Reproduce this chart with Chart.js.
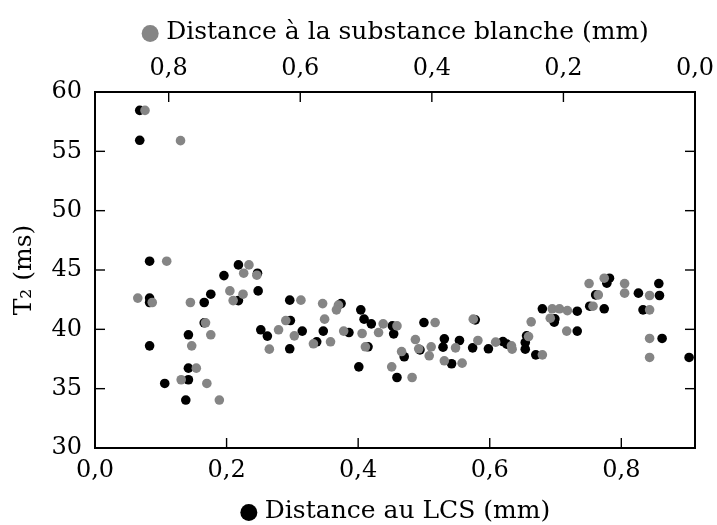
<!DOCTYPE html>
<html>
<head>
<meta charset="utf-8">
<script src="https://cdn.jsdelivr.net/npm/chart.js@4/dist/chart.umd.min.js"></script>
<style>
  html, body { margin: 0; padding: 0; background: #fff; }
  canvas { display: block; }
</style>
</head>
<body>
<canvas id="c" width="717" height="525"></canvas>
<script>
// Distance au LCS (mm) -> T2 (ms), black points, bottom axis
const lcsX = [0.068,0.068,0.083,0.218,0.196,0.247,0.248,0.176,0.083,0.083,0.166,0.218,0.166,0.252,0.262,0.142,0.083,0.142,0.106,0.142,0.138,
  0.296,0.374,0.404,0.409,0.420,0.452,0.454,0.500,0.297,0.315,0.296,0.347,0.337,0.386,0.401,0.415,0.459,0.470,0.494,
  0.531,0.529,0.542,0.554,0.578,0.574,0.598,0.620,0.626,0.654,0.654,0.656,0.670,0.680,0.699,0.698,0.733,0.733,0.752,
  0.774,0.761,0.778,0.782,0.826,0.857,0.858,0.833,0.862,0.903];
const lcsT2 = [58.45,55.93,45.74,45.43,44.53,44.73,43.24,42.96,42.63,42.26,42.26,42.42,40.55,39.96,39.43,39.54,38.61,36.73,35.44,35.75,34.04,
  42.46,42.17,41.64,40.86,40.46,40.29,39.62,40.57,40.74,39.85,38.36,39.85,38.95,39.73,36.84,38.53,35.94,37.69,38.27,
  39.20,38.50,37.10,39.06,40.80,38.44,38.36,38.97,38.75,38.89,38.33,39.45,37.85,41.73,40.88,40.60,41.53,39.85,41.95,
  41.73,42.90,43.89,44.31,43.05,43.86,42.85,41.64,39.23,37.63];

// Distance à la substance blanche (mm) -> T2 (ms), grey points, top (reversed) axis
const sbX = [0.836,0.782,0.803,0.678,0.686,0.666,0.707,0.687,0.847,0.825,0.767,0.702,0.744,0.647,0.736,0.765,0.758,0.781,0.742,0.723,
  0.599,0.566,0.542,0.545,0.453,0.474,0.481,0.395,0.622,0.563,0.633,0.609,0.580,0.554,0.534,0.506,0.501,0.461,0.430,0.446,
  0.425,0.420,0.401,0.404,0.381,0.354,0.364,0.337,0.330,0.303,0.279,0.278,0.253,0.232,0.249,0.217,0.206,0.194,0.220,0.195,
  0.155,0.161,0.147,0.138,0.107,0.107,0.069,0.069,0.069,0.069];
const sbT2 = [58.45,55.90,45.74,45.43,44.73,44.56,43.24,42.96,42.63,42.26,42.26,42.42,40.55,38.33,39.54,38.61,36.73,35.75,35.44,34.04,
  42.46,42.17,42.04,41.64,40.29,40.46,39.73,40.57,40.74,40.86,39.96,39.45,38.78,38.95,39.85,39.65,38.53,36.84,35.94,38.13,
  39.14,38.36,38.53,37.77,37.35,37.15,38.44,40.86,39.06,38.92,38.61,38.33,39.39,37.85,40.63,41.73,41.73,41.58,40.94,39.85,
  41.95,43.86,42.90,44.31,43.86,43.05,42.85,41.64,39.23,37.63];

const xTicks = [0, 0.2, 0.4, 0.6, 0.8];
const yTicks = [30, 35, 40, 45, 50, 55, 60];
const xMax = 0.912;
const titleTop = "Distance à la substance blanche (mm)";
const titleBottom = "Distance au LCS (mm)";
const titleY = "T₂ (ms)";

const FONT = "'DejaVu Serif', serif";
const GREY = '#858585';
const fmt = v => v.toFixed(1).replace('.', ',');
const pts = (xs, ys) => xs.map((x, i) => ({x: x, y: ys[i]}));

const tickFont = {family: FONT, size: 24};
const titleFont = {family: FONT, size: 25, lineHeight: 1};
const SPACER = '\u2003';

const inwardTicks = {
  id: 'inwardTicks',
  afterDraw(chart) {
    const ctx = chart.ctx, a = chart.chartArea, L = 10;
    ctx.save();
    ctx.strokeStyle = '#000';
    ctx.lineWidth = 1.4;
    const line = (x1, y1, x2, y2) => { ctx.beginPath(); ctx.moveTo(x1, y1); ctx.lineTo(x2, y2); ctx.stroke(); };
    const sx = chart.scales.x, sx2 = chart.scales.x2, sy = chart.scales.y;
    xTicks.forEach(v => {
      const p = sx.getPixelForValue(v);
      if (Math.abs(p - a.left) > 2) line(p, a.bottom, p, a.bottom - L);
      const q = sx2.getPixelForValue(v);
      if (Math.abs(q - a.right) > 2) line(q, a.top, q, a.top + L);
    });
    yTicks.forEach(v => {
      const p = sy.getPixelForValue(v);
      if (Math.abs(p - a.top) > 2 && Math.abs(p - a.bottom) > 2) {
        line(a.left, p, a.left + L, p);
        line(a.right, p, a.right - L, p);
      }
    });
    // legend markers in front of the axis titles
    const drawMarker = (scale, text, color, cy) => {
      ctx.font = `${titleFont.size}px ${FONT}`;
      const w = ctx.measureText(SPACER + text).width;
      const cx = (scale.left + scale.right) / 2 - w / 2;
      ctx.fillStyle = color;
      ctx.beginPath();
      ctx.arc(cx + 9, cy, 8.5, 0, Math.PI * 2);
      ctx.fill();
    };
    drawMarker(sx2, titleTop, GREY, sx2.top + titleFont.size / 2 + 20 + 1);
    drawMarker(sx, titleBottom, '#000', sx.bottom - titleFont.size / 2 - 1 + 1);
    ctx.restore();
  }
};

const axisBorder = {display: true, color: '#000', width: 2};

new Chart(document.getElementById('c'), {
  type: 'scatter',
  data: {
    datasets: [
      {label: titleTop, data: pts(sbX, sbT2), xAxisID: 'x2', yAxisID: 'y',
       backgroundColor: GREY, borderWidth: 0, pointRadius: 4.8, pointHoverRadius: 4.8},
      {label: titleBottom, data: pts(lcsX, lcsT2), xAxisID: 'x', yAxisID: 'y',
       backgroundColor: '#000', borderWidth: 0, pointRadius: 4.8, pointHoverRadius: 4.8}
    ]
  },
  options: {
    responsive: false,
    animation: false,
    devicePixelRatio: 1,
    layout: {padding: 0},
    plugins: {legend: {display: false}, tooltip: {enabled: false}},
    scales: {
      x: {
        type: 'linear', position: 'bottom', min: 0, max: xMax,
        afterBuildTicks: s => { s.ticks = xTicks.map(v => ({value: v})); },
        afterFit: s => { s.height = 77; },
        grid: {display: false, drawTicks: false},
        border: axisBorder,
        ticks: {font: tickFont, color: '#000', padding: 8, maxRotation: 0, callback: v => fmt(v)},
        title: {display: true, text: SPACER + titleBottom, font: titleFont, color: '#000', padding: {top: 0, bottom: 1}}
      },
      x2: {
        type: 'linear', position: 'top', min: 0, max: xMax, reverse: true,
        afterBuildTicks: s => { s.ticks = xTicks.map(v => ({value: v})); },
        afterFit: s => { s.height = 92; },
        grid: {display: false, drawTicks: false},
        border: axisBorder,
        ticks: {font: tickFont, color: '#000', padding: 9, maxRotation: 0, callback: v => fmt(v)},
        title: {display: true, text: SPACER + titleTop, font: titleFont, color: '#000', padding: {top: 20, bottom: 0}}
      },
      y: {
        type: 'linear', position: 'left', min: 30, max: 60,
        afterBuildTicks: s => { s.ticks = yTicks.map(v => ({value: v})); },
        afterFit: s => { s.width = 95; },
        grid: {display: false, drawTicks: false},
        border: axisBorder,
        ticks: {font: tickFont, color: '#000', padding: 13, callback: v => String(v)},
        title: {display: true, text: titleY, font: titleFont, color: '#000', padding: {top: 12, bottom: 0}}
      },
      y2: {
        type: 'linear', position: 'right', min: 30, max: 60,
        afterFit: s => { s.width = 22; },
        grid: {display: false, drawTicks: false},
        border: axisBorder,
        ticks: {display: false}
      }
    }
  },
  plugins: [inwardTicks]
});
</script>
</body>
</html>
